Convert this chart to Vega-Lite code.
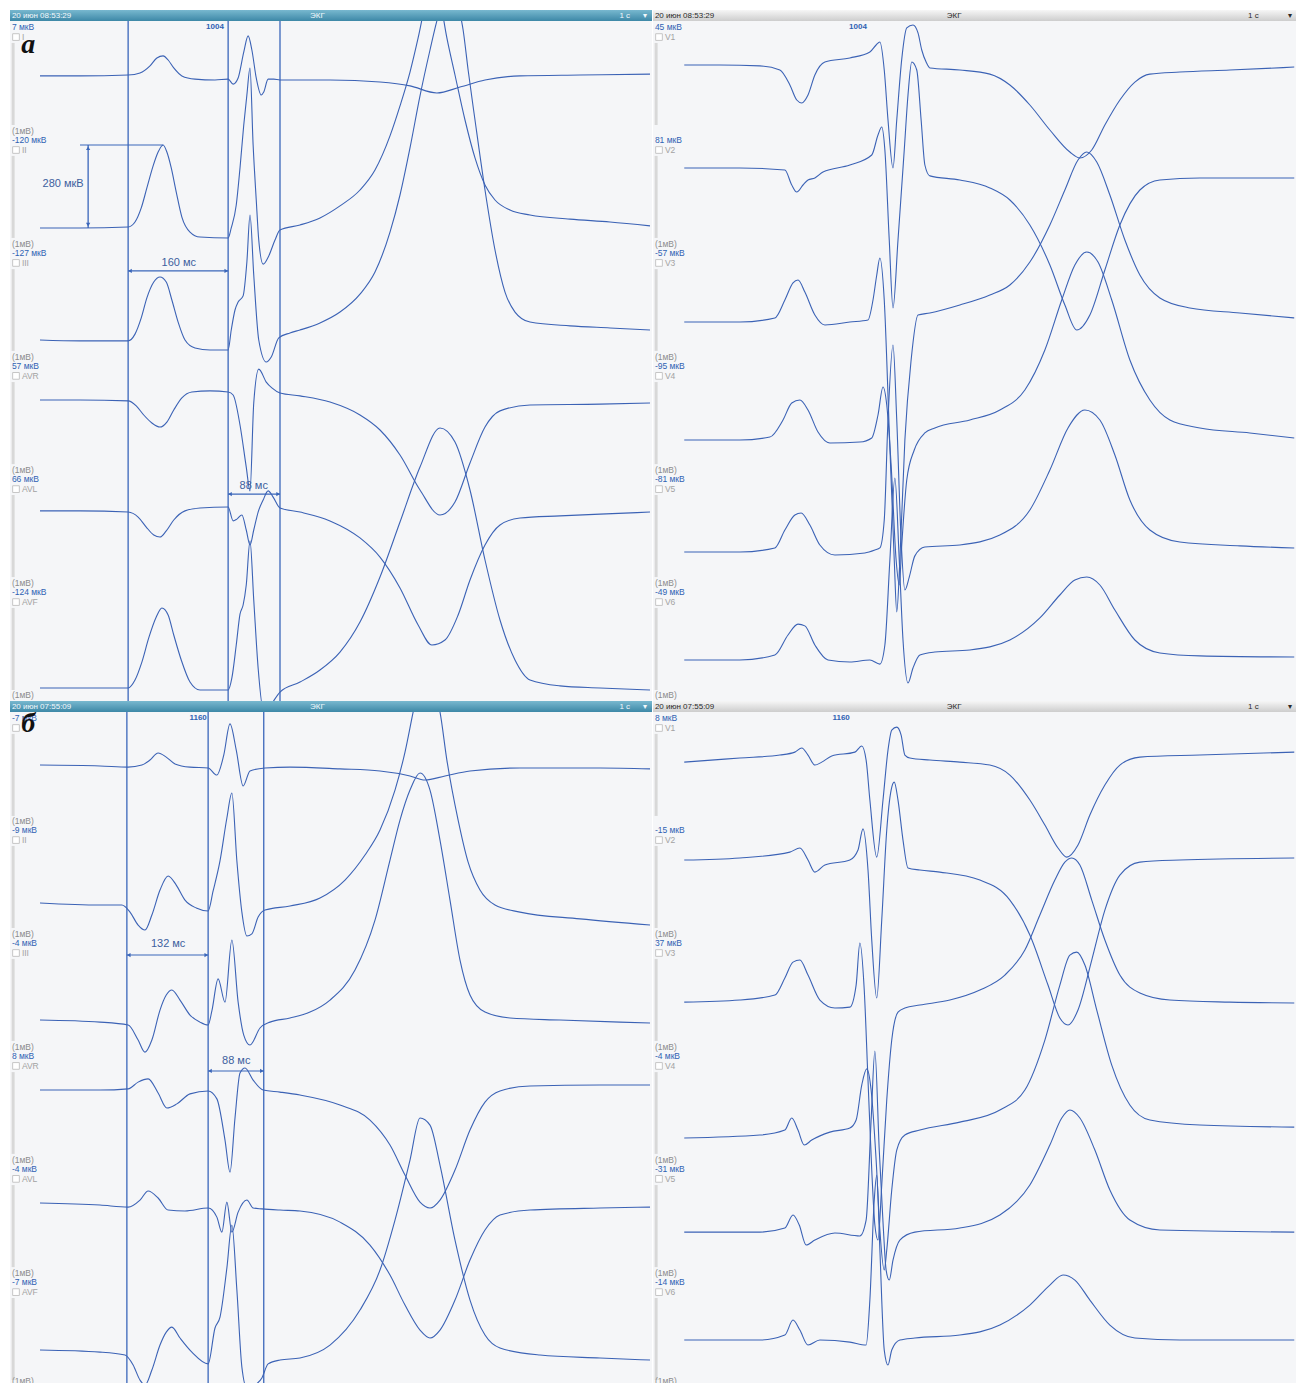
{
"$schema":"https://vega.github.io/schema/vega-lite/v6.json",
"padding":{"left":10,"top":10,"right":0,"bottom":0},
"background":"#ffffff",
"config":{"view":{"stroke":null},"text":{"font":"Liberation Sans"}},
"datasets":{
"tl":[
{"l":"I","t":48,"v":2122},{"l":"I","t":112,"v":2122},{"l":"I","t":189,"v":2125},{"l":"I","t":208,"v":2132},{"l":"I","t":224,"v":2156},{"l":"I","t":235,"v":2183},{"l":"I","t":245,"v":2190},{"l":"I","t":253,"v":2176},{"l":"I","t":262,"v":2149},{"l":"I","t":275,"v":2122},{"l":"I","t":296,"v":2111},{"l":"I","t":328,"v":2108},{"l":"I","t":349,"v":2111},{"l":"I","t":357,"v":2094},{"l":"I","t":365,"v":2115},{"l":"I","t":374,"v":2203},{"l":"I","t":381,"v":2258},{"l":"I","t":387,"v":2210},{"l":"I","t":394,"v":2115},{"l":"I","t":402,"v":2057},{"l":"I","t":406,"v":2067},{"l":"I","t":413,"v":2111},{"l":"I","t":422,"v":2111},{"l":"I","t":432,"v":2108},{"l":"I","t":512,"v":2108},{"l":"I","t":592,"v":2101},{"l":"I","t":640,"v":2088},{"l":"I","t":683,"v":2064},{"l":"I","t":720,"v":2084},{"l":"I","t":760,"v":2108},{"l":"I","t":816,"v":2122},{"l":"I","t":912,"v":2125},{"l":"I","t":1024,"v":2128},
{"l":"II","t":48,"v":1605},{"l":"II","t":112,"v":1605},{"l":"II","t":189,"v":1608},{"l":"II","t":200,"v":1625},{"l":"II","t":210,"v":1673},{"l":"II","t":219,"v":1741},{"l":"II","t":229,"v":1816},{"l":"II","t":237,"v":1863},{"l":"II","t":245,"v":1887},{"l":"II","t":251,"v":1863},{"l":"II","t":258,"v":1809},{"l":"II","t":266,"v":1727},{"l":"II","t":275,"v":1642},{"l":"II","t":288,"v":1591},{"l":"II","t":304,"v":1574},{"l":"II","t":349,"v":1571},{"l":"II","t":354,"v":1605},{"l":"II","t":362,"v":1683},{"l":"II","t":368,"v":1809},{"l":"II","t":374,"v":1955},{"l":"II","t":379,"v":2057},{"l":"II","t":384,"v":2149},{"l":"II","t":389,"v":1887},{"l":"II","t":394,"v":1700},{"l":"II","t":398,"v":1564},{"l":"II","t":405,"v":1482},{"l":"II","t":414,"v":1510},{"l":"II","t":424,"v":1564},{"l":"II","t":432,"v":1598},{"l":"II","t":464,"v":1615},{"l":"II","t":496,"v":1639},{"l":"II","t":528,"v":1680},{"l":"II","t":560,"v":1734},{"l":"II","t":584,"v":1802},{"l":"II","t":608,"v":1918},{"l":"II","t":624,"v":2020},{"l":"II","t":640,"v":2135},{"l":"II","t":653,"v":2251},{"l":"II","t":666,"v":2380},{"l":"II","t":677,"v":2448},{"l":"II","t":688,"v":2380},{"l":"II","t":699,"v":2251},{"l":"II","t":712,"v":2125},{"l":"II","t":728,"v":1972},{"l":"II","t":744,"v":1843},{"l":"II","t":760,"v":1751},{"l":"II","t":776,"v":1700},{"l":"II","t":800,"v":1666},{"l":"II","t":832,"v":1649},{"l":"II","t":896,"v":1635},{"l":"II","t":960,"v":1625},{"l":"II","t":1024,"v":1612},
{"l":"III","t":48,"v":1224},{"l":"III","t":112,"v":1221},{"l":"III","t":189,"v":1221},{"l":"III","t":200,"v":1244},{"l":"III","t":210,"v":1299},{"l":"III","t":219,"v":1367},{"l":"III","t":230,"v":1421},{"l":"III","t":240,"v":1438},{"l":"III","t":250,"v":1421},{"l":"III","t":259,"v":1360},{"l":"III","t":269,"v":1285},{"l":"III","t":280,"v":1224},{"l":"III","t":296,"v":1197},{"l":"III","t":320,"v":1190},{"l":"III","t":349,"v":1190},{"l":"III","t":354,"v":1258},{"l":"III","t":360,"v":1326},{"l":"III","t":365,"v":1353},{"l":"III","t":373,"v":1374},{"l":"III","t":379,"v":1489},{"l":"III","t":384,"v":1649},{"l":"III","t":390,"v":1445},{"l":"III","t":398,"v":1224},{"l":"III","t":410,"v":1149},{"l":"III","t":418,"v":1166},{"l":"III","t":430,"v":1231},{"l":"III","t":448,"v":1248},{"l":"III","t":464,"v":1258},{"l":"III","t":496,"v":1282},{"l":"III","t":528,"v":1319},{"l":"III","t":560,"v":1380},{"l":"III","t":584,"v":1455},{"l":"III","t":608,"v":1591},{"l":"III","t":624,"v":1717},{"l":"III","t":640,"v":1877},{"l":"III","t":656,"v":2054},{"l":"III","t":672,"v":2210},{"l":"III","t":683,"v":2309},{"l":"III","t":696,"v":2397},{"l":"III","t":707,"v":2431},{"l":"III","t":717,"v":2363},{"l":"III","t":725,"v":2278},{"l":"III","t":733,"v":2142},{"l":"III","t":744,"v":1972},{"l":"III","t":760,"v":1734},{"l":"III","t":776,"v":1530},{"l":"III","t":792,"v":1387},{"l":"III","t":808,"v":1319},{"l":"III","t":832,"v":1285},{"l":"III","t":896,"v":1272},{"l":"III","t":960,"v":1265},{"l":"III","t":1024,"v":1258},
{"l":"AVR","t":48,"v":1020},{"l":"AVR","t":112,"v":1020},{"l":"AVR","t":189,"v":1017},{"l":"AVR","t":202,"v":1000},{"l":"AVR","t":214,"v":969},{"l":"AVR","t":227,"v":942},{"l":"AVR","t":240,"v":928},{"l":"AVR","t":251,"v":945},{"l":"AVR","t":262,"v":986},{"l":"AVR","t":275,"v":1027},{"l":"AVR","t":291,"v":1047},{"l":"AVR","t":320,"v":1051},{"l":"AVR","t":349,"v":1047},{"l":"AVR","t":357,"v":1037},{"l":"AVR","t":368,"v":935},{"l":"AVR","t":378,"v":792},{"l":"AVR","t":384,"v":711},{"l":"AVR","t":390,"v":1010},{"l":"AVR","t":398,"v":1125},{"l":"AVR","t":410,"v":1081},{"l":"AVR","t":419,"v":1061},{"l":"AVR","t":432,"v":1044},{"l":"AVR","t":464,"v":1034},{"l":"AVR","t":512,"v":1013},{"l":"AVR","t":560,"v":969},{"l":"AVR","t":592,"v":918},{"l":"AVR","t":624,"v":833},{"l":"AVR","t":656,"v":714},{"l":"AVR","t":688,"v":629},{"l":"AVR","t":712,"v":673},{"l":"AVR","t":736,"v":806},{"l":"AVR","t":760,"v":928},{"l":"AVR","t":784,"v":983},{"l":"AVR","t":832,"v":1003},{"l":"AVR","t":944,"v":1006},{"l":"AVR","t":1024,"v":1010},
{"l":"AVL","t":48,"v":643},{"l":"AVL","t":112,"v":643},{"l":"AVL","t":189,"v":639},{"l":"AVL","t":205,"v":622},{"l":"AVL","t":218,"v":588},{"l":"AVL","t":230,"v":561},{"l":"AVL","t":240,"v":554},{"l":"AVL","t":250,"v":575},{"l":"AVL","t":262,"v":612},{"l":"AVL","t":280,"v":643},{"l":"AVL","t":304,"v":653},{"l":"AVL","t":349,"v":656},{"l":"AVL","t":357,"v":609},{"l":"AVL","t":363,"v":615},{"l":"AVL","t":371,"v":629},{"l":"AVL","t":378,"v":578},{"l":"AVL","t":384,"v":527},{"l":"AVL","t":390,"v":578},{"l":"AVL","t":397,"v":639},{"l":"AVL","t":405,"v":680},{"l":"AVL","t":413,"v":711},{"l":"AVL","t":421,"v":690},{"l":"AVL","t":432,"v":653},{"l":"AVL","t":464,"v":639},{"l":"AVL","t":512,"v":609},{"l":"AVL","t":560,"v":551},{"l":"AVL","t":592,"v":486},{"l":"AVL","t":624,"v":381},{"l":"AVL","t":653,"v":255},{"l":"AVL","t":675,"v":187},{"l":"AVL","t":696,"v":204},{"l":"AVL","t":717,"v":289},{"l":"AVL","t":736,"v":408},{"l":"AVL","t":760,"v":527},{"l":"AVL","t":784,"v":595},{"l":"AVL","t":816,"v":619},{"l":"AVL","t":880,"v":626},{"l":"AVL","t":944,"v":632},{"l":"AVL","t":1024,"v":639},
{"l":"AVF","t":48,"v":41},{"l":"AVF","t":112,"v":41},{"l":"AVF","t":189,"v":41},{"l":"AVF","t":200,"v":68},{"l":"AVF","t":211,"v":129},{"l":"AVF","t":222,"v":211},{"l":"AVF","t":234,"v":282},{"l":"AVF","t":243,"v":313},{"l":"AVF","t":253,"v":289},{"l":"AVF","t":262,"v":221},{"l":"AVF","t":274,"v":136},{"l":"AVF","t":288,"v":61},{"l":"AVF","t":304,"v":34},{"l":"AVF","t":349,"v":34},{"l":"AVF","t":355,"v":75},{"l":"AVF","t":362,"v":187},{"l":"AVF","t":368,"v":292},{"l":"AVF","t":373,"v":323},{"l":"AVF","t":378,"v":391},{"l":"AVF","t":384,"v":541},{"l":"AVF","t":390,"v":340},{"l":"AVF","t":397,"v":109},{"l":"AVF","t":406,"v":-41},{"l":"AVF","t":416,"v":-20},{"l":"AVF","t":432,"v":27},{"l":"AVF","t":464,"v":61},{"l":"AVF","t":496,"v":102},{"l":"AVF","t":528,"v":163},{"l":"AVF","t":560,"v":265},{"l":"AVF","t":592,"v":418},{"l":"AVF","t":624,"v":605},{"l":"AVF","t":656,"v":792},{"l":"AVF","t":688,"v":925},{"l":"AVF","t":712,"v":877},{"l":"AVF","t":736,"v":714},{"l":"AVF","t":760,"v":476},{"l":"AVF","t":784,"v":272},{"l":"AVF","t":808,"v":136},{"l":"AVF","t":832,"v":68},{"l":"AVF","t":880,"v":48},{"l":"AVF","t":944,"v":41},{"l":"AVF","t":1024,"v":34}
],
"tr":[
{"l":"V1","t":50,"v":2159},{"l":"V1","t":107,"v":2159},{"l":"V1","t":171,"v":2156},{"l":"V1","t":203,"v":2142},{"l":"V1","t":219,"v":2091},{"l":"V1","t":230,"v":2040},{"l":"V1","t":238,"v":2030},{"l":"V1","t":248,"v":2057},{"l":"V1","t":259,"v":2125},{"l":"V1","t":275,"v":2169},{"l":"V1","t":315,"v":2183},{"l":"V1","t":347,"v":2203},{"l":"V1","t":357,"v":2227},{"l":"V1","t":363,"v":2237},{"l":"V1","t":370,"v":2142},{"l":"V1","t":376,"v":1972},{"l":"V1","t":384,"v":1809},{"l":"V1","t":390,"v":1972},{"l":"V1","t":398,"v":2179},{"l":"V1","t":406,"v":2285},{"l":"V1","t":416,"v":2295},{"l":"V1","t":424,"v":2268},{"l":"V1","t":430,"v":2210},{"l":"V1","t":437,"v":2169},{"l":"V1","t":443,"v":2149},{"l":"V1","t":491,"v":2142},{"l":"V1","t":539,"v":2128},{"l":"V1","t":571,"v":2091},{"l":"V1","t":603,"v":2023},{"l":"V1","t":635,"v":1938},{"l":"V1","t":667,"v":1863},{"l":"V1","t":683,"v":1843},{"l":"V1","t":702,"v":1870},{"l":"V1","t":723,"v":1955},{"l":"V1","t":747,"v":2040},{"l":"V1","t":771,"v":2101},{"l":"V1","t":795,"v":2128},{"l":"V1","t":843,"v":2135},{"l":"V1","t":923,"v":2142},{"l":"V1","t":1026,"v":2152},
{"l":"V2","t":50,"v":1809},{"l":"V2","t":139,"v":1809},{"l":"V2","t":211,"v":1802},{"l":"V2","t":222,"v":1751},{"l":"V2","t":230,"v":1727},{"l":"V2","t":240,"v":1751},{"l":"V2","t":248,"v":1768},{"l":"V2","t":259,"v":1775},{"l":"V2","t":272,"v":1795},{"l":"V2","t":315,"v":1819},{"l":"V2","t":350,"v":1853},{"l":"V2","t":360,"v":1921},{"l":"V2","t":366,"v":1948},{"l":"V2","t":371,"v":1870},{"l":"V2","t":378,"v":1564},{"l":"V2","t":384,"v":1333},{"l":"V2","t":392,"v":1564},{"l":"V2","t":402,"v":1870},{"l":"V2","t":408,"v":2057},{"l":"V2","t":414,"v":2169},{"l":"V2","t":422,"v":2142},{"l":"V2","t":429,"v":1972},{"l":"V2","t":435,"v":1819},{"l":"V2","t":443,"v":1782},{"l":"V2","t":491,"v":1768},{"l":"V2","t":539,"v":1741},{"l":"V2","t":571,"v":1700},{"l":"V2","t":603,"v":1615},{"l":"V2","t":635,"v":1479},{"l":"V2","t":659,"v":1343},{"l":"V2","t":678,"v":1258},{"l":"V2","t":699,"v":1309},{"l":"V2","t":723,"v":1462},{"l":"V2","t":747,"v":1615},{"l":"V2","t":779,"v":1734},{"l":"V2","t":811,"v":1768},{"l":"V2","t":875,"v":1775},{"l":"V2","t":1026,"v":1775},
{"l":"V3","t":50,"v":1285},{"l":"V3","t":139,"v":1285},{"l":"V3","t":195,"v":1299},{"l":"V3","t":211,"v":1360},{"l":"V3","t":224,"v":1418},{"l":"V3","t":232,"v":1428},{"l":"V3","t":243,"v":1387},{"l":"V3","t":259,"v":1309},{"l":"V3","t":275,"v":1275},{"l":"V3","t":315,"v":1285},{"l":"V3","t":344,"v":1292},{"l":"V3","t":352,"v":1360},{"l":"V3","t":358,"v":1445},{"l":"V3","t":363,"v":1503},{"l":"V3","t":370,"v":1360},{"l":"V3","t":378,"v":918},{"l":"V3","t":386,"v":476},{"l":"V3","t":390,"v":299},{"l":"V3","t":395,"v":476},{"l":"V3","t":403,"v":884},{"l":"V3","t":413,"v":1156},{"l":"V3","t":424,"v":1309},{"l":"V3","t":443,"v":1316},{"l":"V3","t":491,"v":1343},{"l":"V3","t":539,"v":1377},{"l":"V3","t":571,"v":1411},{"l":"V3","t":603,"v":1489},{"l":"V3","t":635,"v":1615},{"l":"V3","t":659,"v":1734},{"l":"V3","t":680,"v":1836},{"l":"V3","t":694,"v":1863},{"l":"V3","t":710,"v":1829},{"l":"V3","t":731,"v":1717},{"l":"V3","t":755,"v":1564},{"l":"V3","t":779,"v":1445},{"l":"V3","t":811,"v":1367},{"l":"V3","t":859,"v":1333},{"l":"V3","t":939,"v":1316},{"l":"V3","t":1026,"v":1299},
{"l":"V4","t":50,"v":884},{"l":"V4","t":139,"v":884},{"l":"V4","t":187,"v":894},{"l":"V4","t":208,"v":952},{"l":"V4","t":222,"v":1010},{"l":"V4","t":235,"v":1020},{"l":"V4","t":248,"v":986},{"l":"V4","t":264,"v":911},{"l":"V4","t":283,"v":874},{"l":"V4","t":331,"v":877},{"l":"V4","t":350,"v":891},{"l":"V4","t":360,"v":969},{"l":"V4","t":368,"v":1064},{"l":"V4","t":374,"v":1003},{"l":"V4","t":381,"v":799},{"l":"V4","t":389,"v":476},{"l":"V4","t":394,"v":391},{"l":"V4","t":398,"v":527},{"l":"V4","t":406,"v":748},{"l":"V4","t":418,"v":850},{"l":"V4","t":435,"v":908},{"l":"V4","t":451,"v":925},{"l":"V4","t":507,"v":952},{"l":"V4","t":555,"v":986},{"l":"V4","t":595,"v":1054},{"l":"V4","t":627,"v":1190},{"l":"V4","t":654,"v":1360},{"l":"V4","t":675,"v":1479},{"l":"V4","t":694,"v":1523},{"l":"V4","t":712,"v":1489},{"l":"V4","t":734,"v":1360},{"l":"V4","t":763,"v":1156},{"l":"V4","t":795,"v":1020},{"l":"V4","t":827,"v":952},{"l":"V4","t":875,"v":925},{"l":"V4","t":955,"v":908},{"l":"V4","t":1026,"v":891},
{"l":"V5","t":50,"v":503},{"l":"V5","t":139,"v":503},{"l":"V5","t":195,"v":517},{"l":"V5","t":211,"v":578},{"l":"V5","t":227,"v":629},{"l":"V5","t":237,"v":636},{"l":"V5","t":251,"v":595},{"l":"V5","t":267,"v":527},{"l":"V5","t":291,"v":493},{"l":"V5","t":339,"v":500},{"l":"V5","t":355,"v":510},{"l":"V5","t":363,"v":517},{"l":"V5","t":370,"v":612},{"l":"V5","t":376,"v":952},{"l":"V5","t":384,"v":1207},{"l":"V5","t":390,"v":952},{"l":"V5","t":397,"v":544},{"l":"V5","t":403,"v":374},{"l":"V5","t":410,"v":418},{"l":"V5","t":419,"v":490},{"l":"V5","t":435,"v":520},{"l":"V5","t":491,"v":527},{"l":"V5","t":555,"v":561},{"l":"V5","t":603,"v":646},{"l":"V5","t":635,"v":782},{"l":"V5","t":664,"v":925},{"l":"V5","t":691,"v":986},{"l":"V5","t":715,"v":952},{"l":"V5","t":739,"v":833},{"l":"V5","t":763,"v":680},{"l":"V5","t":795,"v":578},{"l":"V5","t":843,"v":537},{"l":"V5","t":939,"v":524},{"l":"V5","t":1026,"v":517},
{"l":"V6","t":50,"v":136},{"l":"V6","t":139,"v":136},{"l":"V6","t":195,"v":153},{"l":"V6","t":216,"v":221},{"l":"V6","t":232,"v":258},{"l":"V6","t":243,"v":252},{"l":"V6","t":259,"v":187},{"l":"V6","t":280,"v":136},{"l":"V6","t":315,"v":129},{"l":"V6","t":347,"v":136},{"l":"V6","t":363,"v":122},{"l":"V6","t":371,"v":187},{"l":"V6","t":379,"v":476},{"l":"V6","t":387,"v":755},{"l":"V6","t":394,"v":476},{"l":"V6","t":400,"v":204},{"l":"V6","t":408,"v":58},{"l":"V6","t":416,"v":109},{"l":"V6","t":427,"v":153},{"l":"V6","t":451,"v":163},{"l":"V6","t":507,"v":170},{"l":"V6","t":571,"v":204},{"l":"V6","t":619,"v":279},{"l":"V6","t":651,"v":357},{"l":"V6","t":675,"v":408},{"l":"V6","t":694,"v":418},{"l":"V6","t":715,"v":391},{"l":"V6","t":739,"v":306},{"l":"V6","t":771,"v":204},{"l":"V6","t":811,"v":160},{"l":"V6","t":875,"v":150},{"l":"V6","t":1026,"v":146}
],
"bl":[
{"l":"I","t":48,"v":2101},{"l":"I","t":144,"v":2098},{"l":"I","t":189,"v":2094},{"l":"I","t":211,"v":2101},{"l":"I","t":224,"v":2118},{"l":"I","t":237,"v":2142},{"l":"I","t":250,"v":2128},{"l":"I","t":264,"v":2105},{"l":"I","t":288,"v":2094},{"l":"I","t":317,"v":2091},{"l":"I","t":331,"v":2067},{"l":"I","t":342,"v":2135},{"l":"I","t":352,"v":2241},{"l":"I","t":362,"v":2152},{"l":"I","t":373,"v":2030},{"l":"I","t":384,"v":2081},{"l":"I","t":408,"v":2091},{"l":"I","t":448,"v":2094},{"l":"I","t":528,"v":2088},{"l":"I","t":592,"v":2081},{"l":"I","t":640,"v":2064},{"l":"I","t":664,"v":2050},{"l":"I","t":696,"v":2064},{"l":"I","t":736,"v":2081},{"l":"I","t":816,"v":2091},{"l":"I","t":944,"v":2091},{"l":"I","t":1024,"v":2088},
{"l":"II","t":48,"v":1632},{"l":"II","t":144,"v":1625},{"l":"II","t":179,"v":1625},{"l":"II","t":192,"v":1601},{"l":"II","t":205,"v":1557},{"l":"II","t":216,"v":1540},{"l":"II","t":227,"v":1591},{"l":"II","t":240,"v":1676},{"l":"II","t":253,"v":1724},{"l":"II","t":266,"v":1693},{"l":"II","t":280,"v":1642},{"l":"II","t":298,"v":1615},{"l":"II","t":317,"v":1605},{"l":"II","t":325,"v":1673},{"l":"II","t":336,"v":1775},{"l":"II","t":347,"v":1921},{"l":"II","t":355,"v":2006},{"l":"II","t":363,"v":1775},{"l":"II","t":371,"v":1601},{"l":"II","t":379,"v":1520},{"l":"II","t":387,"v":1527},{"l":"II","t":397,"v":1584},{"l":"II","t":408,"v":1608},{"l":"II","t":448,"v":1622},{"l":"II","t":496,"v":1649},{"l":"II","t":536,"v":1710},{"l":"II","t":568,"v":1795},{"l":"II","t":592,"v":1880},{"l":"II","t":616,"v":2016},{"l":"II","t":632,"v":2145},{"l":"II","t":645,"v":2281},{"l":"II","t":656,"v":2390},{"l":"II","t":667,"v":2441},{"l":"II","t":678,"v":2356},{"l":"II","t":688,"v":2281},{"l":"II","t":699,"v":2118},{"l":"II","t":717,"v":1914},{"l":"II","t":733,"v":1771},{"l":"II","t":752,"v":1676},{"l":"II","t":776,"v":1625},{"l":"II","t":816,"v":1601},{"l":"II","t":912,"v":1578},{"l":"II","t":1024,"v":1557},
{"l":"III","t":48,"v":1234},{"l":"III","t":144,"v":1227},{"l":"III","t":189,"v":1217},{"l":"III","t":205,"v":1166},{"l":"III","t":216,"v":1125},{"l":"III","t":227,"v":1166},{"l":"III","t":240,"v":1268},{"l":"III","t":250,"v":1319},{"l":"III","t":259,"v":1336},{"l":"III","t":272,"v":1302},{"l":"III","t":288,"v":1251},{"l":"III","t":304,"v":1227},{"l":"III","t":317,"v":1217},{"l":"III","t":323,"v":1265},{"l":"III","t":333,"v":1374},{"l":"III","t":344,"v":1295},{"l":"III","t":355,"v":1506},{"l":"III","t":365,"v":1295},{"l":"III","t":374,"v":1183},{"l":"III","t":384,"v":1149},{"l":"III","t":400,"v":1207},{"l":"III","t":416,"v":1227},{"l":"III","t":448,"v":1241},{"l":"III","t":480,"v":1261},{"l":"III","t":512,"v":1302},{"l":"III","t":552,"v":1404},{"l":"III","t":584,"v":1574},{"l":"III","t":608,"v":1778},{"l":"III","t":624,"v":1914},{"l":"III","t":640,"v":2016},{"l":"III","t":656,"v":2074},{"l":"III","t":672,"v":2016},{"l":"III","t":688,"v":1846},{"l":"III","t":704,"v":1642},{"l":"III","t":720,"v":1438},{"l":"III","t":736,"v":1319},{"l":"III","t":760,"v":1261},{"l":"III","t":800,"v":1241},{"l":"III","t":880,"v":1234},{"l":"III","t":976,"v":1227},{"l":"III","t":1024,"v":1224},
{"l":"AVR","t":48,"v":996},{"l":"AVR","t":144,"v":996},{"l":"AVR","t":189,"v":1000},{"l":"AVR","t":205,"v":1023},{"l":"AVR","t":221,"v":1034},{"l":"AVR","t":237,"v":986},{"l":"AVR","t":251,"v":935},{"l":"AVR","t":267,"v":949},{"l":"AVR","t":288,"v":983},{"l":"AVR","t":317,"v":993},{"l":"AVR","t":331,"v":966},{"l":"AVR","t":344,"v":826},{"l":"AVR","t":352,"v":717},{"l":"AVR","t":360,"v":901},{"l":"AVR","t":368,"v":1054},{"l":"AVR","t":376,"v":1071},{"l":"AVR","t":389,"v":1030},{"l":"AVR","t":405,"v":996},{"l":"AVR","t":432,"v":989},{"l":"AVR","t":464,"v":979},{"l":"AVR","t":528,"v":945},{"l":"AVR","t":576,"v":894},{"l":"AVR","t":608,"v":809},{"l":"AVR","t":632,"v":707},{"l":"AVR","t":656,"v":615},{"l":"AVR","t":672,"v":595},{"l":"AVR","t":688,"v":622},{"l":"AVR","t":712,"v":724},{"l":"AVR","t":736,"v":860},{"l":"AVR","t":760,"v":955},{"l":"AVR","t":784,"v":993},{"l":"AVR","t":832,"v":1010},{"l":"AVR","t":944,"v":1013},{"l":"AVR","t":1024,"v":1013},
{"l":"AVL","t":48,"v":612},{"l":"AVL","t":144,"v":605},{"l":"AVL","t":189,"v":598},{"l":"AVL","t":208,"v":622},{"l":"AVL","t":221,"v":653},{"l":"AVL","t":237,"v":629},{"l":"AVL","t":253,"v":588},{"l":"AVL","t":280,"v":585},{"l":"AVL","t":317,"v":595},{"l":"AVL","t":331,"v":564},{"l":"AVL","t":339,"v":513},{"l":"AVL","t":347,"v":615},{"l":"AVL","t":355,"v":513},{"l":"AVL","t":365,"v":581},{"l":"AVL","t":379,"v":622},{"l":"AVL","t":389,"v":595},{"l":"AVL","t":403,"v":592},{"l":"AVL","t":432,"v":588},{"l":"AVL","t":464,"v":585},{"l":"AVL","t":528,"v":547},{"l":"AVL","t":576,"v":469},{"l":"AVL","t":608,"v":367},{"l":"AVL","t":632,"v":265},{"l":"AVL","t":656,"v":180},{"l":"AVL","t":672,"v":153},{"l":"AVL","t":688,"v":180},{"l":"AVL","t":712,"v":282},{"l":"AVL","t":736,"v":418},{"l":"AVL","t":760,"v":520},{"l":"AVL","t":784,"v":571},{"l":"AVL","t":832,"v":588},{"l":"AVL","t":944,"v":595},{"l":"AVL","t":1024,"v":598},
{"l":"AVF","t":48,"v":112},{"l":"AVF","t":144,"v":105},{"l":"AVF","t":184,"v":95},{"l":"AVF","t":197,"v":61},{"l":"AVF","t":208,"v":10},{"l":"AVF","t":216,"v":-7},{"l":"AVF","t":227,"v":44},{"l":"AVF","t":240,"v":129},{"l":"AVF","t":250,"v":173},{"l":"AVF","t":259,"v":190},{"l":"AVF","t":272,"v":153},{"l":"AVF","t":291,"v":105},{"l":"AVF","t":317,"v":65},{"l":"AVF","t":328,"v":187},{"l":"AVF","t":336,"v":224},{"l":"AVF","t":347,"v":391},{"l":"AVF","t":355,"v":537},{"l":"AVF","t":363,"v":316},{"l":"AVF","t":371,"v":54},{"l":"AVF","t":379,"v":-17},{"l":"AVF","t":392,"v":-7},{"l":"AVF","t":403,"v":17},{"l":"AVF","t":413,"v":65},{"l":"AVF","t":432,"v":78},{"l":"AVF","t":464,"v":85},{"l":"AVF","t":512,"v":129},{"l":"AVF","t":560,"v":248},{"l":"AVF","t":592,"v":384},{"l":"AVF","t":616,"v":554},{"l":"AVF","t":640,"v":758},{"l":"AVF","t":656,"v":901},{"l":"AVF","t":672,"v":877},{"l":"AVF","t":688,"v":741},{"l":"AVF","t":712,"v":486},{"l":"AVF","t":736,"v":282},{"l":"AVF","t":760,"v":163},{"l":"AVF","t":784,"v":119},{"l":"AVF","t":848,"v":95},{"l":"AVF","t":944,"v":85},{"l":"AVF","t":1024,"v":78}
],
"br":[
{"l":"V1","t":50,"v":2111},{"l":"V1","t":139,"v":2125},{"l":"V1","t":203,"v":2135},{"l":"V1","t":227,"v":2145},{"l":"V1","t":238,"v":2159},{"l":"V1","t":248,"v":2135},{"l":"V1","t":259,"v":2101},{"l":"V1","t":270,"v":2111},{"l":"V1","t":286,"v":2132},{"l":"V1","t":323,"v":2145},{"l":"V1","t":334,"v":2166},{"l":"V1","t":341,"v":2118},{"l":"V1","t":347,"v":1982},{"l":"V1","t":358,"v":1788},{"l":"V1","t":368,"v":1982},{"l":"V1","t":376,"v":2152},{"l":"V1","t":382,"v":2220},{"l":"V1","t":390,"v":2230},{"l":"V1","t":397,"v":2203},{"l":"V1","t":403,"v":2135},{"l":"V1","t":411,"v":2125},{"l":"V1","t":443,"v":2118},{"l":"V1","t":491,"v":2111},{"l":"V1","t":539,"v":2101},{"l":"V1","t":571,"v":2067},{"l":"V1","t":603,"v":1982},{"l":"V1","t":627,"v":1897},{"l":"V1","t":648,"v":1819},{"l":"V1","t":662,"v":1788},{"l":"V1","t":680,"v":1829},{"l":"V1","t":699,"v":1931},{"l":"V1","t":723,"v":2033},{"l":"V1","t":747,"v":2101},{"l":"V1","t":779,"v":2128},{"l":"V1","t":875,"v":2135},{"l":"V1","t":1026,"v":2145},
{"l":"V2","t":50,"v":1778},{"l":"V2","t":139,"v":1785},{"l":"V2","t":219,"v":1805},{"l":"V2","t":235,"v":1819},{"l":"V2","t":248,"v":1778},{"l":"V2","t":259,"v":1737},{"l":"V2","t":275,"v":1761},{"l":"V2","t":315,"v":1778},{"l":"V2","t":328,"v":1812},{"l":"V2","t":336,"v":1884},{"l":"V2","t":344,"v":1744},{"l":"V2","t":350,"v":1506},{"l":"V2","t":358,"v":1309},{"l":"V2","t":366,"v":1574},{"l":"V2","t":374,"v":1880},{"l":"V2","t":381,"v":2016},{"l":"V2","t":386,"v":2043},{"l":"V2","t":392,"v":1982},{"l":"V2","t":400,"v":1846},{"l":"V2","t":408,"v":1751},{"l":"V2","t":427,"v":1744},{"l":"V2","t":459,"v":1737},{"l":"V2","t":523,"v":1710},{"l":"V2","t":571,"v":1642},{"l":"V2","t":603,"v":1523},{"l":"V2","t":632,"v":1353},{"l":"V2","t":651,"v":1241},{"l":"V2","t":664,"v":1217},{"l":"V2","t":680,"v":1268},{"l":"V2","t":702,"v":1438},{"l":"V2","t":723,"v":1608},{"l":"V2","t":747,"v":1727},{"l":"V2","t":779,"v":1771},{"l":"V2","t":843,"v":1778},{"l":"V2","t":1026,"v":1785},
{"l":"V3","t":50,"v":1295},{"l":"V3","t":139,"v":1302},{"l":"V3","t":195,"v":1319},{"l":"V3","t":211,"v":1377},{"l":"V3","t":224,"v":1431},{"l":"V3","t":235,"v":1438},{"l":"V3","t":248,"v":1387},{"l":"V3","t":267,"v":1302},{"l":"V3","t":291,"v":1275},{"l":"V3","t":315,"v":1278},{"l":"V3","t":325,"v":1353},{"l":"V3","t":331,"v":1496},{"l":"V3","t":338,"v":1336},{"l":"V3","t":344,"v":1030},{"l":"V3","t":350,"v":724},{"l":"V3","t":355,"v":537},{"l":"V3","t":360,"v":486},{"l":"V3","t":366,"v":673},{"l":"V3","t":374,"v":962},{"l":"V3","t":382,"v":1166},{"l":"V3","t":392,"v":1261},{"l":"V3","t":403,"v":1275},{"l":"V3","t":427,"v":1285},{"l":"V3","t":475,"v":1302},{"l":"V3","t":523,"v":1336},{"l":"V3","t":563,"v":1387},{"l":"V3","t":595,"v":1472},{"l":"V3","t":619,"v":1591},{"l":"V3","t":643,"v":1710},{"l":"V3","t":659,"v":1771},{"l":"V3","t":670,"v":1785},{"l":"V3","t":683,"v":1761},{"l":"V3","t":702,"v":1642},{"l":"V3","t":723,"v":1506},{"l":"V3","t":747,"v":1387},{"l":"V3","t":779,"v":1326},{"l":"V3","t":827,"v":1302},{"l":"V3","t":923,"v":1295},{"l":"V3","t":1026,"v":1292},
{"l":"V4","t":50,"v":833},{"l":"V4","t":171,"v":843},{"l":"V4","t":211,"v":860},{"l":"V4","t":222,"v":901},{"l":"V4","t":232,"v":860},{"l":"V4","t":242,"v":809},{"l":"V4","t":254,"v":826},{"l":"V4","t":283,"v":853},{"l":"V4","t":315,"v":867},{"l":"V4","t":325,"v":894},{"l":"V4","t":334,"v":1013},{"l":"V4","t":342,"v":1068},{"l":"V4","t":349,"v":996},{"l":"V4","t":357,"v":758},{"l":"V4","t":363,"v":520},{"l":"V4","t":370,"v":384},{"l":"V4","t":374,"v":452},{"l":"V4","t":382,"v":656},{"l":"V4","t":390,"v":792},{"l":"V4","t":403,"v":843},{"l":"V4","t":427,"v":860},{"l":"V4","t":491,"v":887},{"l":"V4","t":555,"v":928},{"l":"V4","t":595,"v":996},{"l":"V4","t":627,"v":1166},{"l":"V4","t":651,"v":1353},{"l":"V4","t":667,"v":1455},{"l":"V4","t":678,"v":1465},{"l":"V4","t":691,"v":1421},{"l":"V4","t":710,"v":1268},{"l":"V4","t":734,"v":1081},{"l":"V4","t":763,"v":945},{"l":"V4","t":795,"v":894},{"l":"V4","t":875,"v":877},{"l":"V4","t":1026,"v":870},
{"l":"V5","t":50,"v":513},{"l":"V5","t":171,"v":513},{"l":"V5","t":211,"v":527},{"l":"V5","t":224,"v":571},{"l":"V5","t":234,"v":537},{"l":"V5","t":245,"v":469},{"l":"V5","t":259,"v":486},{"l":"V5","t":291,"v":510},{"l":"V5","t":331,"v":500},{"l":"V5","t":341,"v":554},{"l":"V5","t":349,"v":894},{"l":"V5","t":355,"v":1129},{"l":"V5","t":362,"v":792},{"l":"V5","t":368,"v":547},{"l":"V5","t":373,"v":384},{"l":"V5","t":378,"v":350},{"l":"V5","t":384,"v":418},{"l":"V5","t":395,"v":486},{"l":"V5","t":419,"v":513},{"l":"V5","t":491,"v":527},{"l":"V5","t":555,"v":571},{"l":"V5","t":603,"v":673},{"l":"V5","t":635,"v":809},{"l":"V5","t":654,"v":901},{"l":"V5","t":667,"v":928},{"l":"V5","t":683,"v":901},{"l":"V5","t":707,"v":792},{"l":"V5","t":731,"v":656},{"l":"V5","t":763,"v":554},{"l":"V5","t":811,"v":520},{"l":"V5","t":1026,"v":513},
{"l":"V6","t":50,"v":146},{"l":"V6","t":171,"v":146},{"l":"V6","t":211,"v":163},{"l":"V6","t":224,"v":214},{"l":"V6","t":235,"v":180},{"l":"V6","t":248,"v":129},{"l":"V6","t":267,"v":146},{"l":"V6","t":315,"v":139},{"l":"V6","t":341,"v":129},{"l":"V6","t":347,"v":282},{"l":"V6","t":354,"v":622},{"l":"V6","t":358,"v":707},{"l":"V6","t":363,"v":452},{"l":"V6","t":370,"v":112},{"l":"V6","t":376,"v":61},{"l":"V6","t":382,"v":112},{"l":"V6","t":395,"v":146},{"l":"V6","t":419,"v":153},{"l":"V6","t":491,"v":163},{"l":"V6","t":555,"v":197},{"l":"V6","t":603,"v":265},{"l":"V6","t":635,"v":333},{"l":"V6","t":656,"v":367},{"l":"V6","t":675,"v":350},{"l":"V6","t":699,"v":282},{"l":"V6","t":731,"v":197},{"l":"V6","t":771,"v":153},{"l":"V6","t":843,"v":146},{"l":"V6","t":1026,"v":146}
],
"tlx":[
{"t":3,"v":2288,"txt":"7 мкВ","k":"val"},{"t":19,"v":2254,"txt":"I","k":"name"},
{"t":3,"v":1935,"txt":"(1мВ)","k":"unit"},{"t":3,"v":1904,"txt":"-120 мкВ","k":"val"},{"t":19,"v":1870,"txt":"II","k":"name"},
{"t":3,"v":1550,"txt":"(1мВ)","k":"unit"},{"t":3,"v":1520,"txt":"-127 мкВ","k":"val"},{"t":19,"v":1486,"txt":"III","k":"name"},
{"t":3,"v":1166,"txt":"(1мВ)","k":"unit"},{"t":3,"v":1136,"txt":"57 мкВ","k":"val"},{"t":19,"v":1102,"txt":"AVR","k":"name"},
{"t":3,"v":782,"txt":"(1мВ)","k":"unit"},{"t":3,"v":751,"txt":"66 мкВ","k":"val"},{"t":19,"v":717,"txt":"AVL","k":"name"},
{"t":3,"v":398,"txt":"(1мВ)","k":"unit"},{"t":3,"v":367,"txt":"-124 мкВ","k":"val"},{"t":19,"v":333,"txt":"AVF","k":"name"},
{"t":3,"v":17,"txt":"(1мВ)","k":"unit"},
{"t":85,"v":1754,"txt":"280 мкВ","k":"meas"},{"t":270,"v":1486,"txt":"160 мс","k":"meas"},{"t":390,"v":728,"txt":"88 мс","k":"meas"},
{"t":328,"v":2288,"txt":"1004","k":"num"},{"t":29,"v":2228,"txt":"а","k":"big"}
],
"trx":[
{"t":3,"v":2288,"txt":"45 мкВ","k":"val"},{"t":19,"v":2254,"txt":"V1","k":"name"},
{"t":3,"v":1904,"txt":"81 мкВ","k":"val"},{"t":19,"v":1870,"txt":"V2","k":"name"},
{"t":3,"v":1550,"txt":"(1мВ)","k":"unit"},{"t":3,"v":1520,"txt":"-57 мкВ","k":"val"},{"t":19,"v":1486,"txt":"V3","k":"name"},
{"t":3,"v":1166,"txt":"(1мВ)","k":"unit"},{"t":3,"v":1136,"txt":"-95 мкВ","k":"val"},{"t":19,"v":1102,"txt":"V4","k":"name"},
{"t":3,"v":782,"txt":"(1мВ)","k":"unit"},{"t":3,"v":751,"txt":"-81 мкВ","k":"val"},{"t":19,"v":717,"txt":"V5","k":"name"},
{"t":3,"v":398,"txt":"(1мВ)","k":"unit"},{"t":3,"v":367,"txt":"-49 мкВ","k":"val"},{"t":19,"v":333,"txt":"V6","k":"name"},
{"t":3,"v":17,"txt":"(1мВ)","k":"unit"},
{"t":328,"v":2288,"txt":"1004","k":"num"}
],
"blx":[
{"t":3,"v":2261,"txt":"-7 мкВ","k":"val"},{"t":19,"v":2227,"txt":"I","k":"name"},
{"t":3,"v":1911,"txt":"(1мВ)","k":"unit"},{"t":3,"v":1880,"txt":"-9 мкВ","k":"val"},{"t":19,"v":1846,"txt":"II","k":"name"},
{"t":3,"v":1527,"txt":"(1мВ)","k":"unit"},{"t":3,"v":1496,"txt":"-4 мкВ","k":"val"},{"t":19,"v":1462,"txt":"III","k":"name"},
{"t":3,"v":1142,"txt":"(1мВ)","k":"unit"},{"t":3,"v":1112,"txt":"8 мкВ","k":"val"},{"t":19,"v":1078,"txt":"AVR","k":"name"},
{"t":3,"v":758,"txt":"(1мВ)","k":"unit"},{"t":3,"v":728,"txt":"-4 мкВ","k":"val"},{"t":19,"v":694,"txt":"AVL","k":"name"},
{"t":3,"v":374,"txt":"(1мВ)","k":"unit"},{"t":3,"v":343,"txt":"-7 мкВ","k":"val"},{"t":19,"v":309,"txt":"AVF","k":"name"},
{"t":3,"v":6,"txt":"(1мВ)","k":"unit"},
{"t":253,"v":1493,"txt":"132 мс","k":"meas"},{"t":362,"v":1095,"txt":"88 мс","k":"meas"},
{"t":301,"v":2261,"txt":"1160","k":"num"},{"t":29,"v":2240,"txt":"б","k":"big"}
],
"brx":[
{"t":3,"v":2261,"txt":"8 мкВ","k":"val"},{"t":19,"v":2227,"txt":"V1","k":"name"},
{"t":3,"v":1880,"txt":"-15 мкВ","k":"val"},{"t":19,"v":1846,"txt":"V2","k":"name"},
{"t":3,"v":1527,"txt":"(1мВ)","k":"unit"},{"t":3,"v":1496,"txt":"37 мкВ","k":"val"},{"t":19,"v":1462,"txt":"V3","k":"name"},
{"t":3,"v":1142,"txt":"(1мВ)","k":"unit"},{"t":3,"v":1112,"txt":"-4 мкВ","k":"val"},{"t":19,"v":1078,"txt":"V4","k":"name"},
{"t":3,"v":758,"txt":"(1мВ)","k":"unit"},{"t":3,"v":728,"txt":"-31 мкВ","k":"val"},{"t":19,"v":694,"txt":"V5","k":"name"},
{"t":3,"v":374,"txt":"(1мВ)","k":"unit"},{"t":3,"v":343,"txt":"-14 мкВ","k":"val"},{"t":19,"v":309,"txt":"V6","k":"name"},
{"t":3,"v":6,"txt":"(1мВ)","k":"unit"},
{"t":301,"v":2261,"txt":"1160","k":"num"}
],
"boxtop":[{"t":9.6,"v":2254},{"t":9.6,"v":1870},{"t":9.6,"v":1486},{"t":9.6,"v":1102},{"t":9.6,"v":717},{"t":9.6,"v":333}],
"boxbot":[{"t":9.6,"v":2227},{"t":9.6,"v":1846},{"t":9.6,"v":1462},{"t":9.6,"v":1078},{"t":9.6,"v":694},{"t":9.6,"v":309}],
"bartop":[{"t":5,"v":2234,"v2":1955},{"t":5,"v":1850,"v2":1571},{"t":5,"v":1465,"v2":1187},{"t":5,"v":1081,"v2":802},{"t":5,"v":697,"v2":418},{"t":5,"v":313,"v2":34}],
"barbot":[{"t":5,"v":2207,"v2":1928},{"t":5,"v":1826,"v2":1547},{"t":5,"v":1442,"v2":1163},{"t":5,"v":1057,"v2":779},{"t":5,"v":673,"v2":394},{"t":5,"v":289,"v2":10}],
"tlcur":[{"t":189,"v":-3.4,"v2":2308.6},{"t":349,"v":-3.4,"v2":2308.6},{"t":432,"v":-3.4,"v2":2308.6},{"t":125,"v":1605,"v2":1887}],
"blcur":[{"t":187,"v":0,"v2":2281.4},{"t":317,"v":0,"v2":2281.4},{"t":406,"v":0,"v2":2281.4}],
"tlh":[{"t":189,"t2":349,"v":1459},{"t":349,"t2":432,"v":700},{"t":112,"t2":245,"v":1887}],
"blh":[{"t":187,"t2":317,"v":1455},{"t":317,"t2":406,"v":1061}],
"tlarr":[{"t":192,"v":1459,"d":"l"},{"t":346,"v":1459,"d":"r"},{"t":352,"v":700,"d":"l"},{"t":429,"v":700,"d":"r"},{"t":125,"v":1876,"d":"u"},{"t":125,"v":1616,"d":"d"}],
"blarr":[{"t":190,"v":1455,"d":"l"},{"t":314,"v":1455,"d":"r"},{"t":320,"v":1061,"d":"l"},{"t":403,"v":1061,"d":"r"}]
},
"columns":2,
"spacing":{"row":0,"column":1},
"bounds":"flush",
"align":"each",
"concat":[
{"width":642,"height":11,
"encoding":{"x":{"field":"t","type":"quantitative","scale":{"domain":[0,1027.2],"nice":false,"zero":false},"axis":null}},
"layer":[
{"data":{"values":[{"t":0,"t2":1027.2}]},"mark":{"type":"rect","clip":true,"color":{"gradient":"linear","x1":0,"y1":0,"x2":0,"y2":1,"stops":[{"offset":0,"color":"#78b8cf"},{"offset":1,"color":"#3d88a7"}]}},"encoding":{"x2":{"field":"t2"}}},
{"data":{"values":[{"t":3,"txt":"20 июн 08:53:29"},{"t":480,"txt":"ЭКГ"},{"t":975,"txt":"1 с"},{"t":1013,"txt":"▾"}]},"mark":{"type":"text","align":"left","baseline":"middle","fontSize":8,"color":"#f2f8fb"},"encoding":{"text":{"field":"txt"}}}
]},
{"width":643,"height":11,
"encoding":{"x":{"field":"t","type":"quantitative","scale":{"domain":[0,1028.8],"nice":false,"zero":false},"axis":null}},
"layer":[
{"data":{"values":[{"t":0,"t2":1028.8}]},"mark":{"type":"rect","clip":true,"color":{"gradient":"linear","x1":0,"y1":0,"x2":0,"y2":1,"stops":[{"offset":0,"color":"#f6f6f6"},{"offset":1,"color":"#cdcdcd"}]}},"encoding":{"x2":{"field":"t2"}}},
{"data":{"values":[{"t":3,"txt":"20 июн 08:53:29"},{"t":470,"txt":"ЭКГ"},{"t":952,"txt":"1 с"},{"t":1016,"txt":"▾"}]},"mark":{"type":"text","align":"left","baseline":"middle","fontSize":8,"color":"#2a2a2a"},"encoding":{"text":{"field":"txt"}}}
]},
{"width":642,"height":680,"view":{"fill":"#f5f6f8","stroke":null},
"encoding":{"x":{"field":"t","type":"quantitative","scale":{"domain":[0,1027.2],"nice":false,"zero":false},"axis":null},"y":{"field":"v","type":"quantitative","scale":{"domain":[-3.4,2308.6],"nice":false,"zero":false},"axis":null}},
"layer":[
{"data":{"name":"bartop"},"mark":{"type":"rule","color":"#d8d8d8","strokeWidth":3},"encoding":{"y2":{"field":"v2"}}},
{"data":{"name":"tlcur"},"mark":{"type":"rule","color":"#3a66ba","strokeWidth":1.3},"encoding":{"y2":{"field":"v2"}}},
{"data":{"name":"tlh"},"mark":{"type":"rule","color":"#3a66ba","strokeWidth":1.1},"encoding":{"x2":{"field":"t2"}}},
{"data":{"name":"tlarr"},"mark":{"type":"point","filled":true,"size":18,"color":"#3a66ba","opacity":1},"encoding":{"shape":{"field":"d","type":"nominal","scale":{"domain":["l","r","u","d"],"range":["triangle-left","triangle-right","triangle-up","triangle-down"]},"legend":null}}},
{"data":{"name":"tl"},"mark":{"type":"line","color":"#3b62b5","strokeWidth":1.1,"clip":true,"interpolate":"monotone"},"encoding":{"detail":{"field":"l","type":"nominal"}}},
{"data":{"name":"boxtop"},"mark":{"type":"point","shape":"square","size":45,"filled":true,"fill":"#ffffff","stroke":"#c6c6c6","strokeWidth":1,"opacity":1}},
{"data":{"name":"tlx"},"transform":[{"filter":"datum.k=='val'||datum.k=='unit'||datum.k=='name'"}],"mark":{"type":"text","align":"left","baseline":"middle","fontSize":8.5},"encoding":{"text":{"field":"txt"},"color":{"field":"k","type":"nominal","scale":{"domain":["val","unit","name"],"range":["#2f62b3","#8c8c8c","#a2a2a2"]},"legend":null}}},
{"data":{"name":"tlx"},"transform":[{"filter":"datum.k=='meas'"}],"mark":{"type":"text","align":"center","baseline":"middle","fontSize":11,"color":"#3d5f9e"},"encoding":{"text":{"field":"txt"}}},
{"data":{"name":"tlx"},"transform":[{"filter":"datum.k=='num'"}],"mark":{"type":"text","align":"center","baseline":"middle","fontSize":8,"fontWeight":"bold","color":"#2f62b3"},"encoding":{"text":{"field":"txt"}}},
{"data":{"name":"tlx"},"transform":[{"filter":"datum.k=='big'"}],"mark":{"type":"text","align":"center","baseline":"middle","fontSize":28,"font":"Liberation Serif","fontStyle":"italic","fontWeight":"bold","color":"#111111"},"encoding":{"text":{"field":"txt"}}}
]},
{"width":643,"height":680,"view":{"fill":"#f5f6f8","stroke":null},
"encoding":{"x":{"field":"t","type":"quantitative","scale":{"domain":[0,1028.8],"nice":false,"zero":false},"axis":null},"y":{"field":"v","type":"quantitative","scale":{"domain":[-3.4,2308.6],"nice":false,"zero":false},"axis":null}},
"layer":[
{"data":{"name":"bartop"},"mark":{"type":"rule","color":"#d8d8d8","strokeWidth":3},"encoding":{"y2":{"field":"v2"}}},
{"data":{"name":"tr"},"mark":{"type":"line","color":"#3b62b5","strokeWidth":1.1,"clip":true,"interpolate":"monotone"},"encoding":{"detail":{"field":"l","type":"nominal"}}},
{"data":{"name":"boxtop"},"mark":{"type":"point","shape":"square","size":45,"filled":true,"fill":"#ffffff","stroke":"#c6c6c6","strokeWidth":1,"opacity":1}},
{"data":{"name":"trx"},"transform":[{"filter":"datum.k=='val'||datum.k=='unit'||datum.k=='name'"}],"mark":{"type":"text","align":"left","baseline":"middle","fontSize":8.5},"encoding":{"text":{"field":"txt"},"color":{"field":"k","type":"nominal","scale":{"domain":["val","unit","name"],"range":["#2f62b3","#8c8c8c","#a2a2a2"]},"legend":null}}},
{"data":{"name":"trx"},"transform":[{"filter":"datum.k=='num'"}],"mark":{"type":"text","align":"center","baseline":"middle","fontSize":8,"fontWeight":"bold","color":"#2f62b3"},"encoding":{"text":{"field":"txt"}}}
]},
{"width":642,"height":11,
"encoding":{"x":{"field":"t","type":"quantitative","scale":{"domain":[0,1027.2],"nice":false,"zero":false},"axis":null}},
"layer":[
{"data":{"values":[{"t":0,"t2":1027.2}]},"mark":{"type":"rect","clip":true,"color":{"gradient":"linear","x1":0,"y1":0,"x2":0,"y2":1,"stops":[{"offset":0,"color":"#78b8cf"},{"offset":1,"color":"#3d88a7"}]}},"encoding":{"x2":{"field":"t2"}}},
{"data":{"values":[{"t":3,"txt":"20 июн 07:55:09"},{"t":480,"txt":"ЭКГ"},{"t":975,"txt":"1 с"},{"t":1013,"txt":"▾"}]},"mark":{"type":"text","align":"left","baseline":"middle","fontSize":8,"color":"#f2f8fb"},"encoding":{"text":{"field":"txt"}}}
]},
{"width":643,"height":11,
"encoding":{"x":{"field":"t","type":"quantitative","scale":{"domain":[0,1028.8],"nice":false,"zero":false},"axis":null}},
"layer":[
{"data":{"values":[{"t":0,"t2":1028.8}]},"mark":{"type":"rect","clip":true,"color":{"gradient":"linear","x1":0,"y1":0,"x2":0,"y2":1,"stops":[{"offset":0,"color":"#f6f6f6"},{"offset":1,"color":"#cdcdcd"}]}},"encoding":{"x2":{"field":"t2"}}},
{"data":{"values":[{"t":3,"txt":"20 июн 07:55:09"},{"t":470,"txt":"ЭКГ"},{"t":952,"txt":"1 с"},{"t":1016,"txt":"▾"}]},"mark":{"type":"text","align":"left","baseline":"middle","fontSize":8,"color":"#2a2a2a"},"encoding":{"text":{"field":"txt"}}}
]},
{"width":642,"height":671,"view":{"fill":"#f5f6f8","stroke":null},
"encoding":{"x":{"field":"t","type":"quantitative","scale":{"domain":[0,1027.2],"nice":false,"zero":false},"axis":null},"y":{"field":"v","type":"quantitative","scale":{"domain":[0,2281.4],"nice":false,"zero":false},"axis":null}},
"layer":[
{"data":{"name":"barbot"},"mark":{"type":"rule","color":"#d8d8d8","strokeWidth":3},"encoding":{"y2":{"field":"v2"}}},
{"data":{"name":"blcur"},"mark":{"type":"rule","color":"#3a66ba","strokeWidth":1.3},"encoding":{"y2":{"field":"v2"}}},
{"data":{"name":"blh"},"mark":{"type":"rule","color":"#3a66ba","strokeWidth":1.1},"encoding":{"x2":{"field":"t2"}}},
{"data":{"name":"blarr"},"mark":{"type":"point","filled":true,"size":18,"color":"#3a66ba","opacity":1},"encoding":{"shape":{"field":"d","type":"nominal","scale":{"domain":["l","r","u","d"],"range":["triangle-left","triangle-right","triangle-up","triangle-down"]},"legend":null}}},
{"data":{"name":"bl"},"mark":{"type":"line","color":"#3b62b5","strokeWidth":1.1,"clip":true,"interpolate":"monotone"},"encoding":{"detail":{"field":"l","type":"nominal"}}},
{"data":{"name":"boxbot"},"mark":{"type":"point","shape":"square","size":45,"filled":true,"fill":"#ffffff","stroke":"#c6c6c6","strokeWidth":1,"opacity":1}},
{"data":{"name":"blx"},"transform":[{"filter":"datum.k=='val'||datum.k=='unit'||datum.k=='name'"}],"mark":{"type":"text","align":"left","baseline":"middle","fontSize":8.5},"encoding":{"text":{"field":"txt"},"color":{"field":"k","type":"nominal","scale":{"domain":["val","unit","name"],"range":["#2f62b3","#8c8c8c","#a2a2a2"]},"legend":null}}},
{"data":{"name":"blx"},"transform":[{"filter":"datum.k=='meas'"}],"mark":{"type":"text","align":"center","baseline":"middle","fontSize":11,"color":"#3d5f9e"},"encoding":{"text":{"field":"txt"}}},
{"data":{"name":"blx"},"transform":[{"filter":"datum.k=='num'"}],"mark":{"type":"text","align":"center","baseline":"middle","fontSize":8,"fontWeight":"bold","color":"#2f62b3"},"encoding":{"text":{"field":"txt"}}},
{"data":{"name":"blx"},"transform":[{"filter":"datum.k=='big'"}],"mark":{"type":"text","align":"center","baseline":"middle","fontSize":28,"font":"Liberation Serif","fontStyle":"italic","fontWeight":"bold","color":"#111111"},"encoding":{"text":{"field":"txt"}}}
]},
{"width":643,"height":671,"view":{"fill":"#f5f6f8","stroke":null},
"encoding":{"x":{"field":"t","type":"quantitative","scale":{"domain":[0,1028.8],"nice":false,"zero":false},"axis":null},"y":{"field":"v","type":"quantitative","scale":{"domain":[0,2281.4],"nice":false,"zero":false},"axis":null}},
"layer":[
{"data":{"name":"barbot"},"mark":{"type":"rule","color":"#d8d8d8","strokeWidth":3},"encoding":{"y2":{"field":"v2"}}},
{"data":{"name":"br"},"mark":{"type":"line","color":"#3b62b5","strokeWidth":1.1,"clip":true,"interpolate":"monotone"},"encoding":{"detail":{"field":"l","type":"nominal"}}},
{"data":{"name":"boxbot"},"mark":{"type":"point","shape":"square","size":45,"filled":true,"fill":"#ffffff","stroke":"#c6c6c6","strokeWidth":1,"opacity":1}},
{"data":{"name":"brx"},"transform":[{"filter":"datum.k=='val'||datum.k=='unit'||datum.k=='name'"}],"mark":{"type":"text","align":"left","baseline":"middle","fontSize":8.5},"encoding":{"text":{"field":"txt"},"color":{"field":"k","type":"nominal","scale":{"domain":["val","unit","name"],"range":["#2f62b3","#8c8c8c","#a2a2a2"]},"legend":null}}},
{"data":{"name":"brx"},"transform":[{"filter":"datum.k=='num'"}],"mark":{"type":"text","align":"center","baseline":"middle","fontSize":8,"fontWeight":"bold","color":"#2f62b3"},"encoding":{"text":{"field":"txt"}}}
]}
]
}
